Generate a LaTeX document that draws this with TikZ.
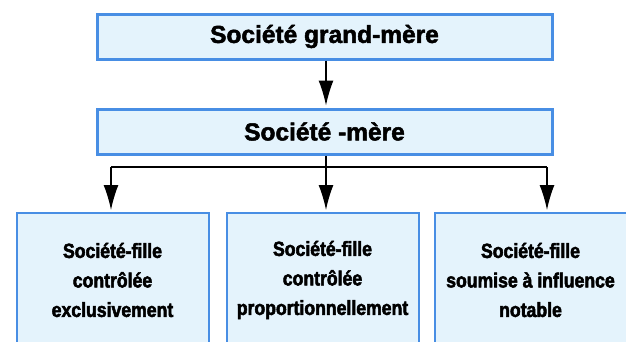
\documentclass[tikz,border=0pt]{standalone}
\usepackage{fontspec}
\setmainfont{Liberation Sans}
\newfontfamily\heavyfont{Liberation Sans Bold}[FakeBold=2]
\newfontfamily\condfont{Liberation Sans Bold}[FakeStretch=0.86,FakeBold=2.5]
\usetikzlibrary{arrows.meta}
\definecolor{bluebd}{RGB}{72,142,228}
\definecolor{bluefill}{RGB}{228,243,252}
\begin{document}
\begin{tikzpicture}[x=1pt,y=-1pt,
  topbox/.style={draw=bluebd,line width=3pt,fill=bluefill,minimum width=455pt,minimum height=45pt,inner sep=0pt,
    font=\heavyfont\fontsize{24.5}{28}\selectfont},
  leafbox/.style={draw=bluebd,line width=2pt,fill=bluefill,minimum width=192pt,minimum height=134pt,inner sep=0pt,
    align=center,font=\condfont\fontsize{20.5}{29.5}\selectfont},
  conn/.style={draw=black,line width=1.3pt},
  arr/.style={conn,-{Latex[length=25pt,width=15pt]},shorten >=2pt}]
\useasboundingbox (0,0) rectangle (626,341);
\node[topbox] (gm) at (324.5,36.5) {Société grand-mère};
\node[topbox] (mere) at (324.5,131.5) {Société -mère};
\node[leafbox] (f1) at (112.5,280) {Société-fille\\contrôlée\\exclusivement};
\node[leafbox] (f2) at (322.5,280) {Société-fille\\contrôlée\\proportionnellement};
\node[leafbox] (f3) at (530.5,280) {Société-fille\\soumise à influence\\notable};
\coordinate (jl) at (111,167);
\coordinate (jm) at (326,167);
\coordinate (jr) at (547,167);
\draw[arr] ([xshift=1.5pt]gm.south) -- ([xshift=1.5pt]mere.north);
\draw[conn] ([xshift=1.5pt]mere.south) -- (jm);
\draw[conn] (jl) -- (jr);
\draw[arr] (jl) -- (jl |- f1.north);
\draw[arr] (jm) -- (jm |- f2.north);
\draw[arr] (jr) -- (jr |- f3.north);
\end{tikzpicture}
\end{document}
